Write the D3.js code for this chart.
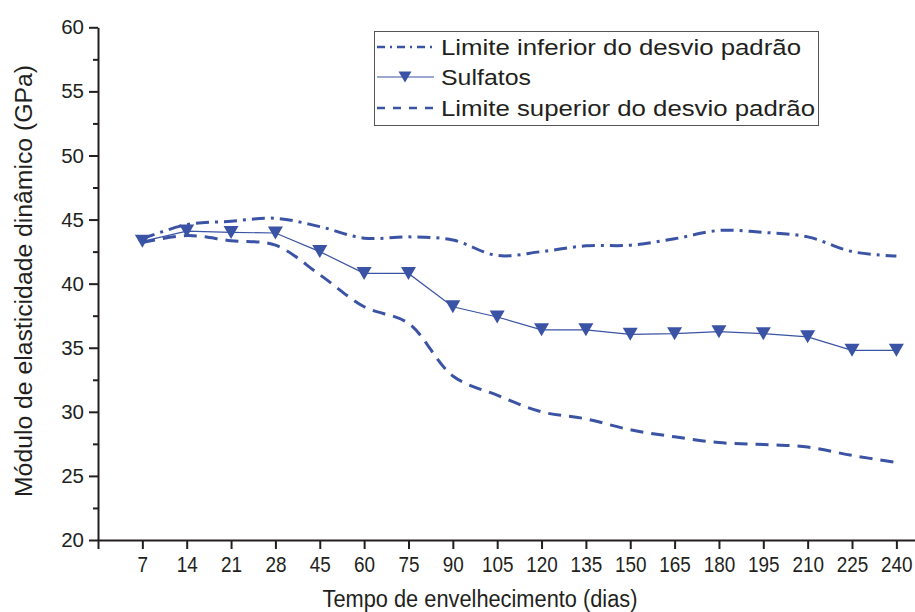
<!DOCTYPE html>
<html><head><meta charset="utf-8">
<script src="https://d3js.org/d3.v7.min.js"></script>
<style>
body{margin:0;background:#fff;}
text{font-family:"Liberation Sans",Arial,sans-serif;fill:#231f20;}
</style></head>
<body><svg id="c" width="915" height="612"></svg>
<script>
const categories = ["7","14","21","28","45","60","75","90","105","120","135","150","165","180","195","210","225","240"];
const sulfatos = [43.3,44.1,44.0,43.95,42.5,40.8,40.8,38.2,37.4,36.4,36.4,36.05,36.1,36.25,36.1,35.85,34.8,34.8];
const limiteInferior = [43.5,44.6,44.87,45.1,44.45,43.55,43.65,43.4,42.2,42.5,42.95,43.0,43.5,44.15,44.0,43.65,42.5,42.15];
const limiteSuperior = [43.2,43.75,43.35,43.0,40.7,38.2,36.9,32.8,31.3,30.0,29.45,28.6,28.05,27.6,27.45,27.25,26.6,26.05];
const yTicks = [20,25,30,35,40,45,50,55,60];
const yMinor = [22.5,27.5,32.5,37.5,42.5,47.5,52.5,57.5];
const legendLabels = ["Limite inferior do desvio padrão","Sulfatos","Limite superior do desvio padrão"];

const color = "#3a53a4";
const svg = d3.select("#c");
const x = d3.scaleLinear().domain([0,18.42]).range([98,915]);
const y = d3.scaleLinear().domain([20,60]).range([540,27.3]);

// Y axis
const yAxis = svg.append("g").attr("transform","translate(98,0)")
  .call(d3.axisLeft(y).tickValues(yTicks).tickSize(9).tickPadding(5).tickSizeOuter(0));
yAxis.select(".domain").attr("stroke","#231f20").attr("stroke-width",2);
yAxis.selectAll(".tick line").attr("stroke","#231f20").attr("stroke-width",2);
yAxis.selectAll(".tick text").attr("font-size",20.5).style("fill","#231f20");
svg.append("g").attr("transform","translate(98,0)")
  .call(d3.axisLeft(y).tickValues(yMinor).tickSize(5).tickFormat("").tickSizeOuter(0))
  .call(g=>g.select(".domain").remove())
  .selectAll("line").attr("stroke","#231f20").attr("stroke-width",2);

// X axis
const xAxis = svg.append("g").attr("transform","translate(0,540)")
  .call(d3.axisBottom(x).tickValues(d3.range(0,19)).tickSize(9).tickPadding(7).tickSizeOuter(0)
    .tickFormat(i => i===0 ? "" : categories[i-1]));
xAxis.select(".domain").attr("stroke","#231f20").attr("stroke-width",2);
xAxis.selectAll(".tick line").attr("stroke","#231f20").attr("stroke-width",2);
xAxis.selectAll(".tick text").attr("font-size",22).style("fill","#231f20")
  .attr("transform","scale(0.86,1)");

// Titles
svg.append("text").attr("x",480).attr("y",607).attr("text-anchor","middle")
  .attr("font-size",23).attr("textLength",315).attr("lengthAdjust","spacingAndGlyphs")
  .text("Tempo de envelhecimento (dias)");
svg.append("text").attr("transform","translate(32,281) rotate(-90)").attr("text-anchor","middle")
  .attr("font-size",23).attr("textLength",432).attr("lengthAdjust","spacingAndGlyphs")
  .text("Módulo de elasticidade dinâmico (GPa)");

const idx = d3.range(1,19);
const line = d3.line().x(d=>x(d[0])).y(d=>y(d[1]));
const curveLine = d3.line().x(d=>x(d[0])).y(d=>y(d[1])).curve(d3.curveCatmullRom.alpha(0.5));

svg.append("path").datum(idx.map((i,k)=>[i,limiteInferior[k]]))
  .attr("d",curveLine).attr("fill","none").attr("stroke",color).attr("stroke-width",3)
  .attr("stroke-dasharray","13,6,3,6");
svg.append("path").datum(idx.map((i,k)=>[i,limiteSuperior[k]]))
  .attr("d",curveLine).attr("fill","none").attr("stroke",color).attr("stroke-width",3)
  .attr("stroke-dasharray","13,8");
svg.append("path").datum(idx.map((i,k)=>[i,sulfatos[k]]))
  .attr("d",line).attr("fill","none").attr("stroke",color).attr("stroke-width",1.2);

const tri = (cx,cy,w,h)=>`M${cx-w/2},${cy-h/2}L${cx+w/2},${cy-h/2}L${cx},${cy+h/2}Z`;
svg.selectAll(".m").data(idx.map((i,k)=>[i,sulfatos[k]])).enter().append("path")
  .attr("d",d=>tri(x(d[0]),y(d[1]),15,13)).attr("fill",color);

// Legend
const lg = svg.append("g");
lg.append("rect").attr("x",374.5).attr("y",31.5).attr("width",444).attr("height",94)
  .attr("fill","#fff").attr("stroke","#555").attr("stroke-width",1);
const rowsY = [47,77,108];
const baseY = [55,85,116];
const textLens = [360,90,374];
lg.append("line").attr("x1",377).attr("x2",434).attr("y1",rowsY[0]).attr("y2",rowsY[0])
  .attr("stroke",color).attr("stroke-width",2.5).attr("stroke-dasharray","8,5,2,5");
lg.append("line").attr("x1",377).attr("x2",434).attr("y1",rowsY[1]).attr("y2",rowsY[1])
  .attr("stroke",color).attr("stroke-width",1.2);
lg.append("path").attr("d",tri(405,rowsY[1],13,11)).attr("fill",color);
lg.append("line").attr("x1",377).attr("x2",434).attr("y1",rowsY[2]).attr("y2",rowsY[2])
  .attr("stroke",color).attr("stroke-width",2.5).attr("stroke-dasharray","8,8");
legendLabels.forEach((t,i)=>{
  lg.append("text").attr("x",441).attr("y",baseY[i]).attr("font-size",22)
    .attr("textLength",textLens[i]).attr("lengthAdjust","spacingAndGlyphs").text(t);
});
</script></body></html>
